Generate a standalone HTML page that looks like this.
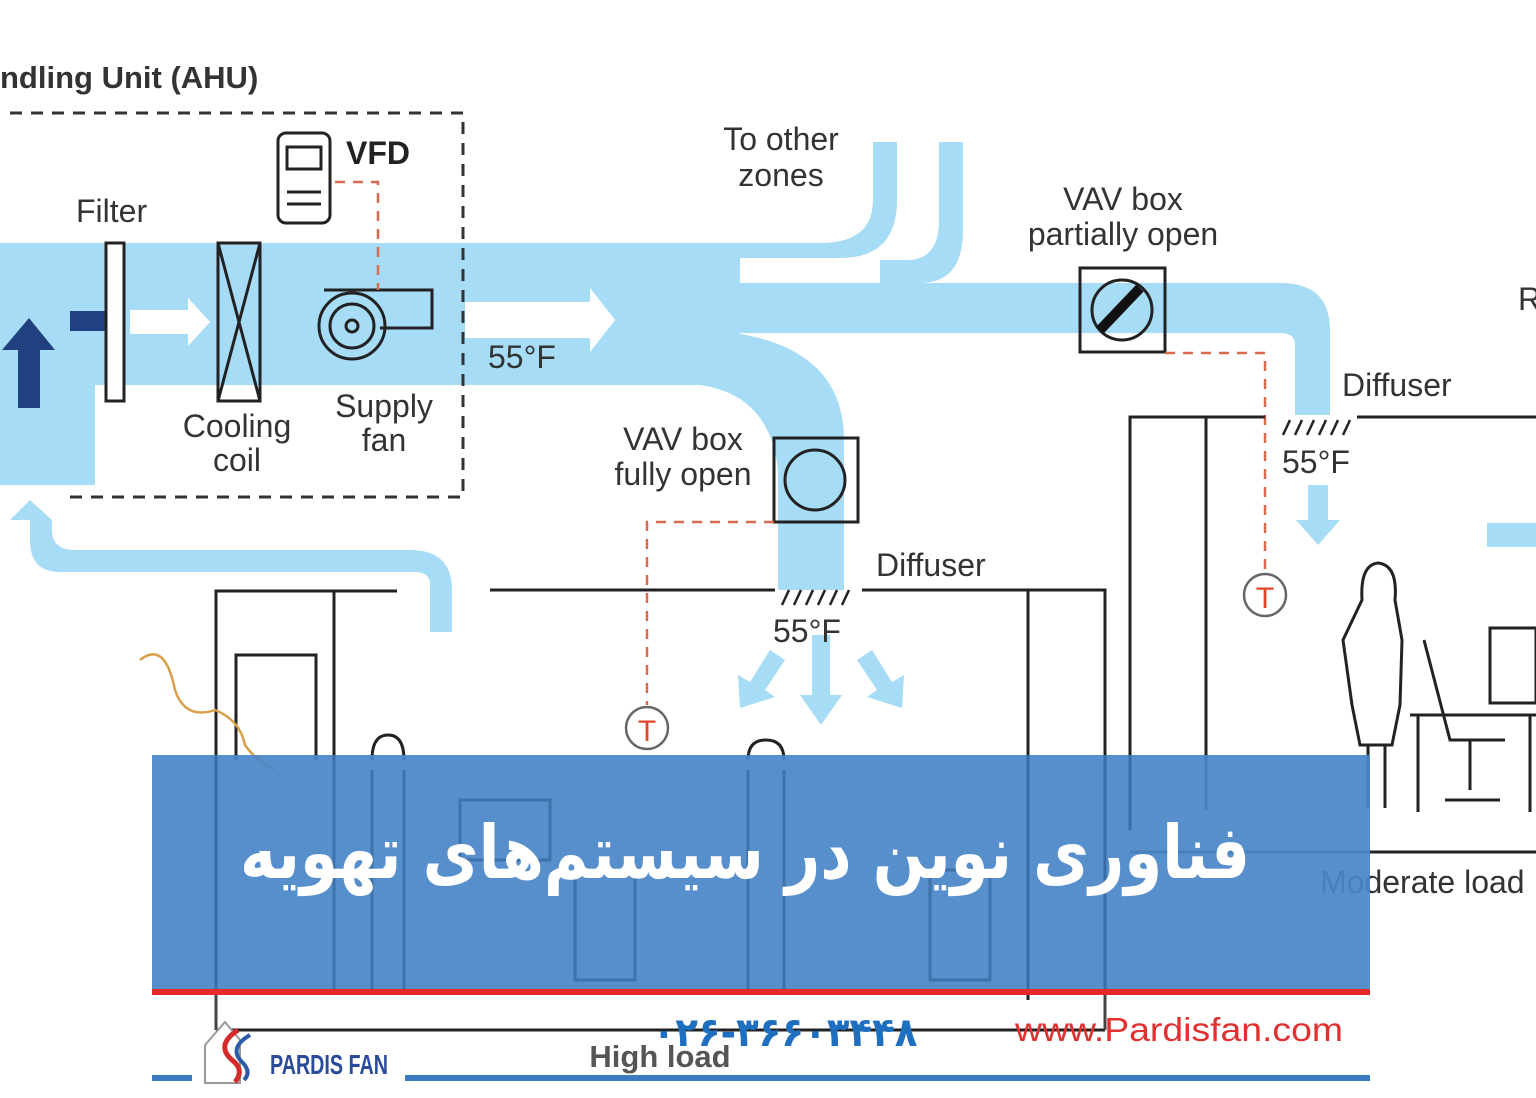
<!DOCTYPE html>
<html><head><meta charset="utf-8"><style>
html,body{margin:0;padding:0;background:#fff;}
svg{display:block;}
text{font-family:"Liberation Sans","DejaVu Sans",sans-serif;fill:#333;}
</style></head><body>
<svg width="1536" height="1098" viewBox="0 0 1536 1098" xmlns="http://www.w3.org/2000/svg">
<rect width="1536" height="1098" fill="#fff"/>
<g fill="#a6dcf5">
  <rect x="0" y="243" width="740" height="142"/>
  <rect x="0" y="380" width="95" height="105"/>
  <path d="M873 142 H897 V200 Q897 258 840 258 H700 V243 H820 Q873 243 873 200 Z"/>
  <path d="M939 142 H963 V230 Q963 283 920 283 H880 L880 260 H910 Q939 258 939 220 Z"/>
  <path d="M700 283 H1280 Q1330 283 1330 330 V415 H1295 V345 Q1295 333 1280 333 H700 Z"/>
  <path d="M700 333 H735 Q844 350 844 440 V590 H778 V470 Q770 395 700 385 Z"/>
  <rect x="1487" y="523" width="49" height="24"/>
  <path d="M452 632 H430 V585 Q430 572 415 572 H60 Q30 572 30 540 V520 H10 L30 500 L52 520 H52 V530 Q52 550 75 550 H410 Q452 550 452 590 Z"/>
  <path d="M1308 485 H1328 V520 H1340 L1318 545 L1296 520 H1308 Z"/>
  <path d="M812 635 H830 V695 H842 L821 725 L800 695 H812 Z"/>
  <path d="M770 650 L785 660 L765 690 L775 697 L740 708 L738 675 L750 682 Z"/>
  <path d="M872 650 L857 660 L877 690 L867 697 L902 708 L904 675 L892 682 Z"/>
</g>
<g fill="#fff">
  <path d="M130 310 H188 V298 L210 322 L188 346 V334 H130 Z"/>
  <path d="M465 302 H590 V288 L615 320 L590 352 V338 H465 Z"/>
</g>
<path d="M18 408 H40 V350 H55 L29 318 L2 350 H18 Z" fill="#20407f"/>
<rect x="70" y="311" width="35" height="20" fill="#20407f"/>
<g stroke="#333" stroke-width="3" fill="none" stroke-dasharray="12 9">
  <path d="M10 113 H463 V497 H65"/>
</g>
<text x="0" y="88" font-size="31" font-weight="bold" style="fill:#333">ndling Unit (AHU)</text>
<g stroke="#222" stroke-width="3" fill="none">
  <rect x="106" y="243" width="18" height="158" fill="#fff"/>
  <rect x="218" y="243" width="42" height="158"/>
  <path d="M218 243 L260 401 M260 243 L218 401"/>
  <rect x="278" y="133" width="52" height="90" rx="8" fill="#fff"/>
  <rect x="287" y="147" width="34" height="22"/>
  <path d="M287 192 H321 M287 204 H321"/>
  <path d="M324 290 H432 V328 H380"/>
  <circle cx="352" cy="326" r="33"/>
  <circle cx="352" cy="326" r="22"/>
  <circle cx="352" cy="326" r="6"/>
  <rect x="1080" y="268" width="85" height="84" fill="none"/>
  <circle cx="1122" cy="310" r="30"/>
  <rect x="774" y="438" width="84" height="84"/>
  <circle cx="815" cy="480" r="30"/>
</g>
<path d="M1100 330 L1140 288" stroke="#111" stroke-width="10"/>
<g stroke="#d76b4f" stroke-width="2.5" fill="none" stroke-dasharray="10 8">
  <path d="M335 182 H378 V290"/>
  <path d="M1165 353 H1265 V575"/>
  <path d="M774 522 H647 V705"/>
</g>
<g stroke="#666" stroke-width="2.5" fill="#fff">
  <circle cx="1265" cy="595" r="21"/>
  <circle cx="647" cy="728" r="21"/>
</g>
<text x="1265" y="608" font-size="30" text-anchor="middle" style="fill:#e2452a">T</text>
<text x="647" y="741" font-size="30" text-anchor="middle" style="fill:#e2452a">T</text>
<g font-size="32">
  <text x="346" y="164" font-weight="bold" style="fill:#222">VFD</text>
  <text x="76" y="222">Filter</text>
  <text x="237" y="437" text-anchor="middle">Cooling</text>
  <text x="237" y="471" text-anchor="middle">coil</text>
  <text x="384" y="417" text-anchor="middle">Supply</text>
  <text x="384" y="451" text-anchor="middle">fan</text>
  <text x="488" y="368">55°F</text>
  <text x="781" y="150" text-anchor="middle">To other</text>
  <text x="781" y="186" text-anchor="middle">zones</text>
  <text x="1123" y="210" text-anchor="middle">VAV box</text>
  <text x="1123" y="245" text-anchor="middle">partially open</text>
  <text x="1518" y="310">R</text>
  <text x="1342" y="396">Diffuser</text>
  <text x="1282" y="473">55°F</text>
  <text x="683" y="450" text-anchor="middle">VAV box</text>
  <text x="683" y="485" text-anchor="middle">fully open</text>
  <text x="876" y="576">Diffuser</text>
  <text x="773" y="642">55°F</text>
  <text x="1320" y="893">Moderate load</text>
</g>
<g stroke="#222" stroke-width="3" fill="none">
  <path d="M1130 830 V417 H1265 M1357 417 H1536 M1206 417 V810"/>
  <path d="M1130 852 H1536"/>
  <path d="M490 590 H775 M862 590 H1105 V1030 M1028 590 V1000"/>
  <path d="M216 1030 V591 H397 M334 591 V760 M236 760 V655 H316 V760"/>
  <path d="M216 1030 H1105"/>
  <path d="M1283 435 L1290 420 M1295 435 L1302 420 M1307 435 L1314 420 M1319 435 L1326 420 M1331 435 L1338 420 M1343 435 L1350 420" stroke-width="2.5"/>
  <path d="M782 605 L789 590 M794 605 L801 590 M806 605 L813 590 M818 605 L825 590 M830 605 L837 590 M842 605 L849 590" stroke-width="2.5"/>
  <path d="M1362 600 Q1360 565 1378 563 Q1398 565 1395 600 L1402 640 L1400 705 L1392 745 L1360 745 L1352 705 L1343 640 Z"/>
  <path d="M1368 745 V808 M1385 745 V808"/>
  <rect x="1490" y="628" width="46" height="75"/>
  <path d="M1410 715 H1536 M1418 715 V812 M1424 640 L1450 740 H1505 M1470 740 V790 M1445 800 H1500"/>
  <path d="M1530 715 V812"/>
  <path d="M372 760 Q372 735 388 735 Q404 735 404 760"/>
  <path d="M748 760 Q748 740 766 740 Q784 740 784 760"/>
</g>
<path d="M140 660 Q165 640 175 690 Q185 720 215 710 Q240 720 245 745 Q255 760 275 770" stroke="#d9a04a" stroke-width="2.5" fill="none"/>
<rect x="152" y="755" width="1218" height="235" fill="#4a86c8" opacity="0.93"/>
<g stroke="#2f5f99" stroke-width="3" fill="none" opacity="0.6">
  <path d="M216 755 V990 M334 755 V990 M1028 755 V990 M1105 755 V990 M1130 755 V830"/>
  <rect x="460" y="800" width="90" height="60"/>
  <rect x="575" y="870" width="60" height="110"/>
  <rect x="930" y="870" width="60" height="110"/>
  <path d="M372 770 V990 M404 770 V990 M748 770 V990 M784 770 V990"/>
</g>
<text x="745" y="878" font-size="74" font-weight="bold" text-anchor="middle" direction="rtl" textLength="1010" lengthAdjust="spacingAndGlyphs" style="fill:#fff;font-family:'DejaVu Sans',sans-serif">فناوری نوین در سیستم‌های تهویه</text>
<rect x="152" y="989" width="1218" height="6" fill="#e52a2a"/>
<g stroke="#444" stroke-width="3" fill="none">
  <path d="M216 995 L216 1030 M1105 995 V1030"/>
</g>
<rect x="152" y="1075" width="40" height="6" fill="#3a7bc0"/>
<rect x="405" y="1075" width="965" height="6" fill="#3a7bc0"/>
<text x="660" y="1067" font-size="31" text-anchor="middle" style="fill:#555;font-weight:bold">High load</text>
<text x="785" y="1046" font-size="40" font-weight="bold" text-anchor="middle" direction="rtl" textLength="265" lengthAdjust="spacingAndGlyphs" style="fill:#1f6fc0;font-family:'DejaVu Sans',sans-serif">۰۲۶-۳۶۶۰۳۴۴۸</text>
<text x="1015" y="1041" font-size="33" textLength="328" lengthAdjust="spacingAndGlyphs" style="fill:#e03030">www.Pardisfan.com</text>
<path d="M205 1083 V1045 L225 1022 L240 1040 V1083 Z" fill="#fff" stroke="#999" stroke-width="2"/>
<path d="M238 1030 Q215 1045 232 1060 Q245 1070 235 1082" stroke="#d42b2b" stroke-width="5" fill="none"/>
<path d="M250 1035 Q228 1048 242 1062 Q252 1072 244 1080" stroke="#2a5aa8" stroke-width="4" fill="none"/>
<text x="270" y="1074" font-size="28" font-weight="bold" style="fill:#2a4a9a" textLength="118" lengthAdjust="spacingAndGlyphs">PARDIS FAN</text>
</svg>
</body></html>
